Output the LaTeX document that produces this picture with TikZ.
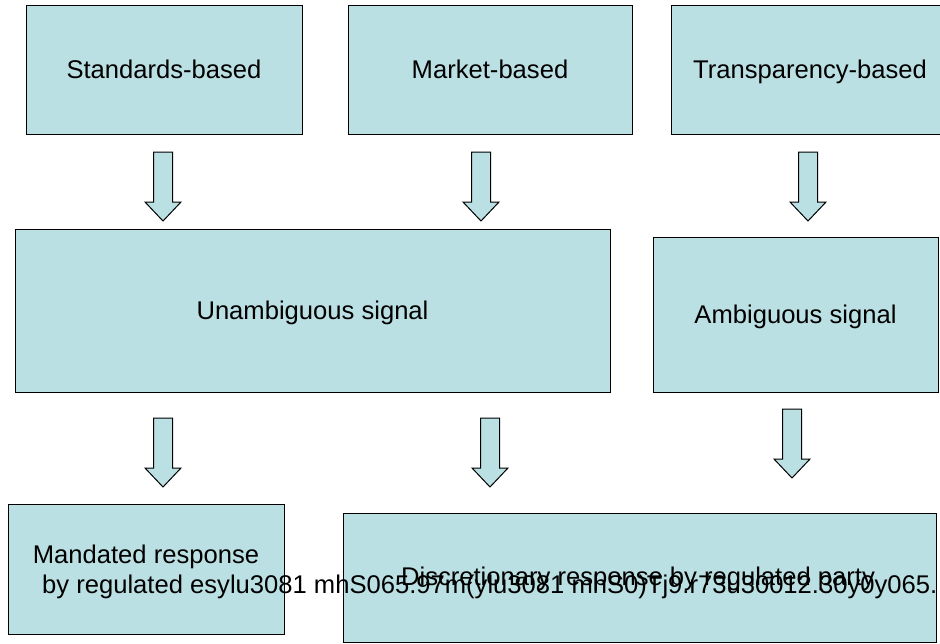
\documentclass[tikz,border=0pt]{standalone}
\usepackage{fontspec}
\setmainfont{Liberation Sans}
\usepackage{tikz}

\definecolor{boxblue}{RGB}{187,224,227}

\tikzset{
  box/.style={draw=black, fill=boxblue, line width=1pt, inner sep=0pt,
    font=\fontsize{25.6}{30}\selectfont},
  txt/.style={inner sep=0pt, font=\fontsize{25.6}{30}\selectfont},
  blockarrow/.style={draw=black, fill=boxblue, line width=1pt}
}

% block arrow pointing down: x centre, y top
\newcommand{\downblock}[2]{%
  \draw[blockarrow] (#1-9.5,#2) -- (#1+9.5,#2) -- (#1+9.5,#2+50) -- (#1+18,#2+50)
    -- (#1,#2+69) -- (#1-18,#2+50) -- (#1-9.5,#2+50) -- cycle;}

\begin{document}
\begin{tikzpicture}[x=1pt,y=-1pt]
  \useasboundingbox (0,0) rectangle (940,643);

  % top row
  \node[box, minimum width=276, minimum height=129, text depth=0pt] (std) at (164,69.5) {Standards-based};
  \node[box, minimum width=284, minimum height=129, text depth=0pt] (mkt) at (490,69.5) {Market-based};
  \node[box, minimum width=278, minimum height=129, text depth=0pt] (trn) at (810,69.5) {Transparency-based};

  \downblock{163}{152}
  \downblock{481}{152}
  \downblock{808}{152}

  % signals
  \node[box, minimum width=595, minimum height=163, text depth=0pt] (unamb) at (312.5,310.5) {Unambiguous signal};
  \node[box, minimum width=285, minimum height=155, text depth=0pt] (amb) at (795.5,314.5) {Ambiguous signal};

  \downblock{163}{418}
  \downblock{490}{418}
  \downblock{792}{409}

  % responses
  \node[box, minimum width=276, minimum height=130] (mand) at (146,569) {};
  \node[box, minimum width=593, minimum height=129] (disc) at (639.5,577.5) {};
  \node[txt, anchor=base] (mandA) at (146,563) {Mandated response};
  \node[txt, anchor=base] (discA) at (638,585) {Discretionary response by regulated party};
  \node[txt, anchor=base west] (mandB) at (42,593) {by regulated esylu3081 mhS065.97m(ylu3081 mhS0)Tj9.r73u30012.30y0y065.};
\end{tikzpicture}
\end{document}
